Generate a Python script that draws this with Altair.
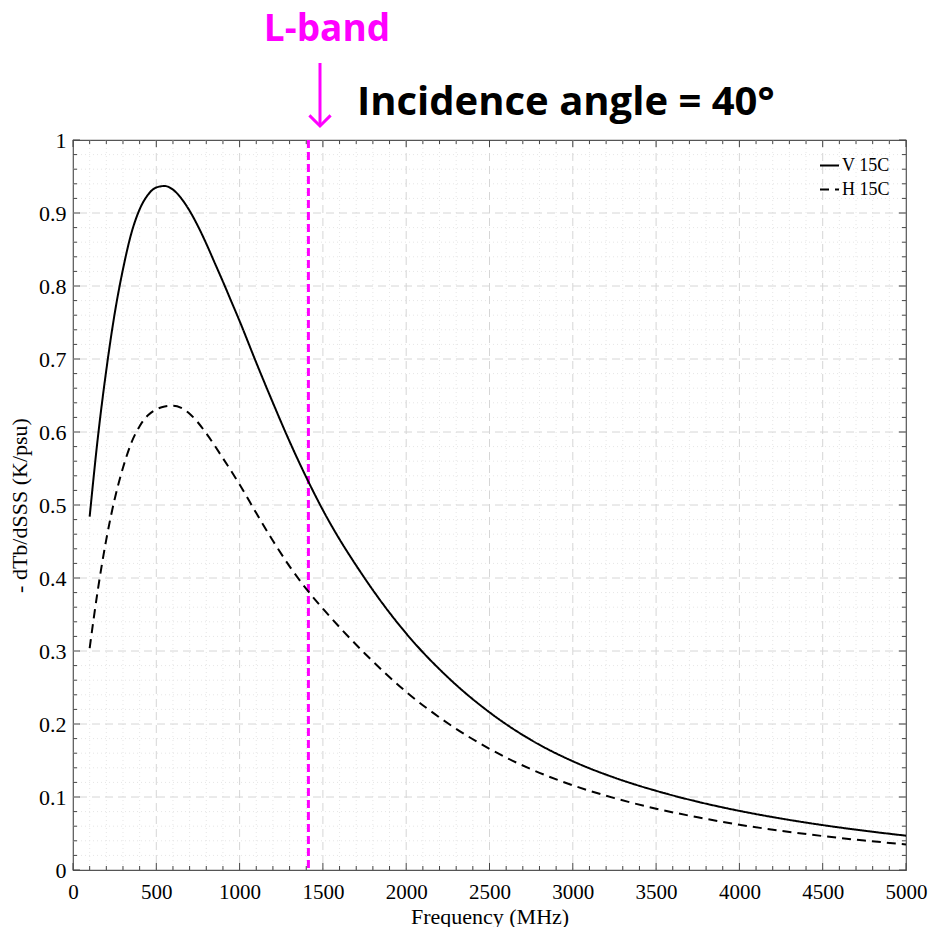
import altair as alt
import pandas as pd

# ---- data ----
freq_v = [100, 150, 200, 250, 300, 350, 400, 450, 500, 550, 600, 650, 700, 750, 800, 850,
          900, 950, 1000, 1100, 1200, 1300, 1400, 1500, 1750, 2000, 2250, 2500, 2750, 3000,
          3250, 3500, 3750, 4000, 4250, 4500, 4750, 5000]
v15 = [0.484, 0.594, 0.685, 0.762, 0.823, 0.872, 0.905, 0.925, 0.935, 0.937, 0.932, 0.920,
       0.903, 0.882, 0.858, 0.832, 0.806, 0.779, 0.752, 0.695, 0.640, 0.587, 0.538, 0.493,
       0.400, 0.324, 0.264, 0.216, 0.178, 0.149, 0.1265, 0.1085, 0.0935, 0.081, 0.0705,
       0.0615, 0.0538, 0.047]

freq_h = [100, 150, 200, 250, 300, 350, 400, 450, 500, 550, 600, 650, 700, 750, 800, 900,
          1000, 1100, 1200, 1300, 1400, 1500, 1750, 2000, 2250, 2500, 2750, 3000, 3250, 3500,
          3750, 4000, 4250, 4500, 4750, 5000]
h15 = [0.304, 0.385, 0.453, 0.508, 0.551, 0.585, 0.608, 0.623, 0.631, 0.635, 0.636, 0.633,
       0.625, 0.613, 0.598, 0.564, 0.528, 0.489, 0.451, 0.416, 0.385, 0.358, 0.297, 0.244,
       0.201, 0.166, 0.138, 0.116, 0.0985, 0.084, 0.0722, 0.062, 0.0537, 0.0465, 0.0404,
       0.035]

series_names = ["V 15C", "H 15C"]
l_band_freq = [1413]

x_major = list(range(0, 5001, 500))
x_minor = [v for v in range(0, 5001, 100) if v % 500]
y_major = [round(i / 10, 2) for i in range(11)]
y_minor = [round(i / 50, 2) for i in range(51) if i % 5]

title_left = ["L-band"]
title_right = ["Incidence angle = 40°"]

W, H = 833, 730
SERIF = "Liberation Serif"
SANS = "Open Sans"
MAG = "#ff00ff"
TICK = "#444444"

curves = pd.concat([
    pd.DataFrame({"f": freq_v, "y": v15, "series": series_names[0]}),
    pd.DataFrame({"f": freq_h, "y": h15, "series": series_names[1]}),
])

xs = alt.Scale(domain=[0, 5000], nice=False, zero=False)
ys = alt.Scale(domain=[0, 1], nice=False, zero=False)

x_axis = alt.Axis(values=x_major, format="d", tickSize=0, labelPadding=11, grid=False,
                  domain=False, labelFont=SERIF, labelFontSize=21, labelColor="black",
                  titleFont=SERIF, titleFontSize=22, titleFontWeight="normal",
                  titleColor="black", titlePadding=4, labelFlush=False)
y_axis = alt.Axis(values=y_major, tickSize=0, labelPadding=7, grid=False, domain=False,
                  labelFont=SERIF, labelFontSize=22, labelColor="black",
                  titleFont=SERIF, titleFontSize=22, titleFontWeight="normal",
                  titleColor="black", titlePadding=7, labelFlush=False,
                  labelExpr="datum.value == 0 ? '0' : datum.value == 1 ? '1' : format(datum.value, '.1f')")

X = alt.X("f:Q", scale=xs, title="Frequency (MHz)", axis=x_axis)
Y = alt.Y("y:Q", scale=ys, title="- dTb/dSSS (K/psu)", axis=y_axis)


def xgrid(vals, color, dash):
    df = pd.DataFrame({"f": [v for v in vals if 0 < v < 5000]})
    return alt.Chart(df).mark_rule(color=color, strokeDash=dash, strokeWidth=1).encode(x=X)


def ygrid(vals, color, dash):
    df = pd.DataFrame({"y": [v for v in vals if 0 < v < 1]})
    return alt.Chart(df).mark_rule(color=color, strokeDash=dash, strokeWidth=1).encode(y=Y)


def xticks(vals, length):
    df = pd.DataFrame({"f": vals})
    bot = alt.Chart(df).mark_rule(color=TICK, strokeWidth=1).encode(
        x=X, y=alt.value(H), y2=alt.value(H - length))
    top = alt.Chart(df).mark_rule(color=TICK, strokeWidth=1).encode(
        x=X, y=alt.value(0), y2=alt.value(length))
    return [bot, top]


def yticks(vals, length):
    df = pd.DataFrame({"y": vals})
    left = alt.Chart(df).mark_rule(color=TICK, strokeWidth=1).encode(
        y=Y, x=alt.value(0), x2=alt.value(length))
    right = alt.Chart(df).mark_rule(color=TICK, strokeWidth=1).encode(
        y=Y, x=alt.value(W), x2=alt.value(W - length))
    return [left, right]


lines = alt.Chart(curves).mark_line(color="black", strokeWidth=2, interpolate="monotone").encode(
    x=X, y=Y,
    strokeDash=alt.StrokeDash("series:N",
                              scale=alt.Scale(domain=series_names, range=[[1, 0], [9, 6]]),
                              legend=alt.Legend(title=None, orient="none", legendX=746, legendY=15,
                                                symbolType="stroke", symbolSize=361,
                                                symbolStrokeWidth=2, symbolStrokeColor="black",
                                                labelFont=SERIF, labelFontSize=18,
                                                labelColor="black", labelOffset=2,
                                                rowPadding=4, padding=0)),
)

lband = alt.Chart(pd.DataFrame({"f": l_band_freq})).mark_rule(
    color=MAG, strokeWidth=3, strokeDash=[8, 4]).encode(x=X)

one = pd.DataFrame({"t": title_left})
lband_text = alt.Chart(one).mark_text(
    font=SANS, fontWeight="bold", fontSize=37, color=MAG, align="center", baseline="alphabetic"
).encode(text="t:N", x=alt.value(254), y=alt.value(-99))

inc_text = alt.Chart(pd.DataFrame({"t": title_right})).mark_text(
    font=SANS, fontWeight="bold", fontSize=40, color="black", align="left", baseline="alphabetic"
).encode(text="t:N", x=alt.value(284), y=alt.value(-25))

arrow_shaft = alt.Chart(one).mark_rule(color=MAG, strokeWidth=3).encode(
    x=alt.value(247), y=alt.value(-77), y2=alt.value(-15))
arrow_head = alt.Chart(one).mark_point(
    shape="M -1 -1 L 0 0 L 1 -1", filled=False, color=MAG, strokeWidth=3, size=450, opacity=1
).encode(x=alt.value(247), y=alt.value(-14))

layers = [
    xgrid(x_minor, "#e6e6e6", [1, 3]),
    ygrid(y_minor, "#e6e6e6", [1, 3]),
    xgrid(x_major, "#d6d6d6", [8, 5]),
    ygrid(y_major, "#d6d6d6", [8, 5]),
    lband,
    lines,
] + xticks(x_major, 7) + xticks(x_minor, 4) + yticks(y_major, 7) + yticks(y_minor, 4) + [
    lband_text, inc_text, arrow_shaft, arrow_head,
]

chart = alt.layer(*layers).properties(
    width=W, height=H,
    autosize=alt.AutoSizeParams(type="none"),
    padding={"left": 73, "top": 140, "right": 29, "bottom": 57},
    background="white",
).configure_view(stroke="#555555", strokeWidth=1.2)

chart.save("out.html", embed_options={"renderer": "svg", "actions": False})
